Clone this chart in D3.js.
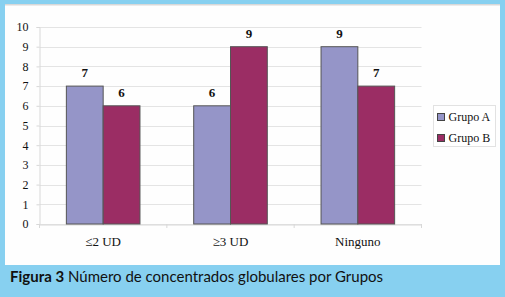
<!DOCTYPE html>
<html>
<head>
<meta charset="utf-8">
<script src="https://cdn.jsdelivr.net/npm/d3@7"></script>
<style>
  html, body { margin: 0; padding: 0; background: #87d0f0; }
  svg { display: block; }
</style>
</head>
<body>
<script>
// chart data
const categories = ['\u22642 UD', '\u22653 UD', 'Ninguno']
const seriesNames = ['Grupo A', 'Grupo B']
const grupoA = [7, 6, 9]
const grupoB = [6, 9, 7]
const yTicks = [0, 1, 2, 3, 4, 5, 6, 7, 8, 9, 10]
const colors = ['#9595c8', '#9b2d64']

const width = 505
const height = 297
const serif = "'Liberation Serif', 'Times New Roman', serif"

const svg = d3.select('body').append('svg')
  .attr('width', width)
  .attr('height', height)

// blue frame + white panel
svg.append('rect').attr('width', width).attr('height', height).attr('fill', '#87d0f0')
svg.append('rect').attr('x', 5).attr('y', 4).attr('width', 495).attr('height', 261).attr('fill', '#fefefe')
svg.append('rect').attr('x', 5).attr('y', 4).attr('width', 495).attr('height', 1.5).attr('fill', '#d8d8d8')

const plot = { left: 39.5, right: 421.5, top: 27, bottom: 224 }

const x = d3.scaleBand()
  .domain(categories)
  .range([plot.left, plot.right])

const inner = d3.scaleBand()
  .domain(seriesNames)
  .range([0, x.bandwidth()])
  .paddingOuter(0.73)
  .paddingInner(0)

const y = d3.scaleLinear()
  .domain([0, 10])
  .range([plot.bottom, plot.top])

// gridlines
svg.append('g')
  .selectAll('line')
  .data(yTicks)
  .join('line')
  .attr('x1', plot.left)
  .attr('x2', plot.right)
  .attr('y1', d => Math.round(y(d)) + 0.5)
  .attr('y2', d => Math.round(y(d)) + 0.5)
  .attr('stroke', '#e4e4e4')
  .attr('stroke-width', 1)

// y axis
const yAxis = svg.append('g')
  .attr('transform', `translate(${plot.left},0)`)
  .call(d3.axisLeft(y).tickValues(yTicks).tickSize(3).tickPadding(8))
yAxis.select('.domain').attr('stroke', '#d8d8d8')
yAxis.selectAll('.tick line').attr('stroke', '#d8d8d8')
yAxis.selectAll('text')
  .attr('font-family', serif)
  .attr('font-size', 12)
  .attr('fill', '#111')

// x axis
const xAxis = svg.append('g')
  .attr('transform', `translate(0,${Math.round(plot.bottom) + 0.5})`)
  .call(d3.axisBottom(x).tickSize(0).tickPadding(12))
xAxis.select('.domain').attr('stroke', '#d8d8d8')
xAxis.selectAll('text')
  .attr('font-family', serif)
  .attr('font-size', 13)
  .attr('fill', '#111')
// category separator ticks
svg.append('g')
  .selectAll('line')
  .data(categories.concat(['end']))
  .join('line')
  .attr('x1', (d, i) => i < categories.length ? x(d) : plot.right)
  .attr('x2', (d, i) => i < categories.length ? x(d) : plot.right)
  .attr('y1', plot.bottom)
  .attr('y2', plot.bottom + 4)
  .attr('stroke', '#d8d8d8')

// bars
const rows = categories.map((c, i) => ({ cat: c, vals: [grupoA[i], grupoB[i]] }))
const groups = svg.append('g')
  .selectAll('g')
  .data(rows)
  .join('g')
  .attr('transform', d => `translate(${x(d.cat)},0)`)

groups.selectAll('rect')
  .data(d => d.vals.map((v, j) => ({ name: seriesNames[j], v, j })))
  .join('rect')
  .attr('x', d => inner(d.name))
  .attr('y', d => y(d.v))
  .attr('width', inner.bandwidth())
  .attr('height', d => y(0) - y(d.v))
  .attr('fill', d => colors[d.j])
  .attr('stroke', '#555')
  .attr('stroke-width', 1)

groups.selectAll('text')
  .data(d => d.vals.map((v, j) => ({ name: seriesNames[j], v, j })))
  .join('text')
  .attr('x', d => inner(d.name) + inner.bandwidth() / 2)
  .attr('y', d => y(d.v) - 9)
  .attr('text-anchor', 'middle')
  .attr('font-family', serif)
  .attr('font-weight', 'bold')
  .attr('font-size', 13)
  .attr('fill', '#111')
  .text(d => d.v)

// legend
const legend = svg.append('g').attr('transform', 'translate(433.5,105.5)')
legend.append('rect')
  .attr('width', 62)
  .attr('height', 41)
  .attr('fill', '#fff')
  .attr('stroke', '#e2e2e2')
const item = legend.selectAll('g')
  .data(seriesNames)
  .join('g')
  .attr('transform', (d, i) => `translate(4,${8 + i * 21})`)
item.append('rect')
  .attr('width', 7)
  .attr('height', 7)
  .attr('fill', (d, i) => colors[i])
  .attr('stroke', '#444')
item.append('text')
  .attr('x', 11)
  .attr('y', 7)
  .attr('font-family', serif)
  .attr('font-size', 12)
  .attr('fill', '#111')
  .text(d => d)

// caption
const cap = svg.append('text')
  .attr('x', 10)
  .attr('y', 282)
  .attr('font-family', 'Lato')
  .attr('font-size', 15)
  .attr('fill', '#111')
cap.append('tspan').attr('font-weight', 'bold').text('Figura 3')
cap.append('tspan').text(' N\u00famero de concentrados globulares por Grupos')
</script>
</body>
</html>
